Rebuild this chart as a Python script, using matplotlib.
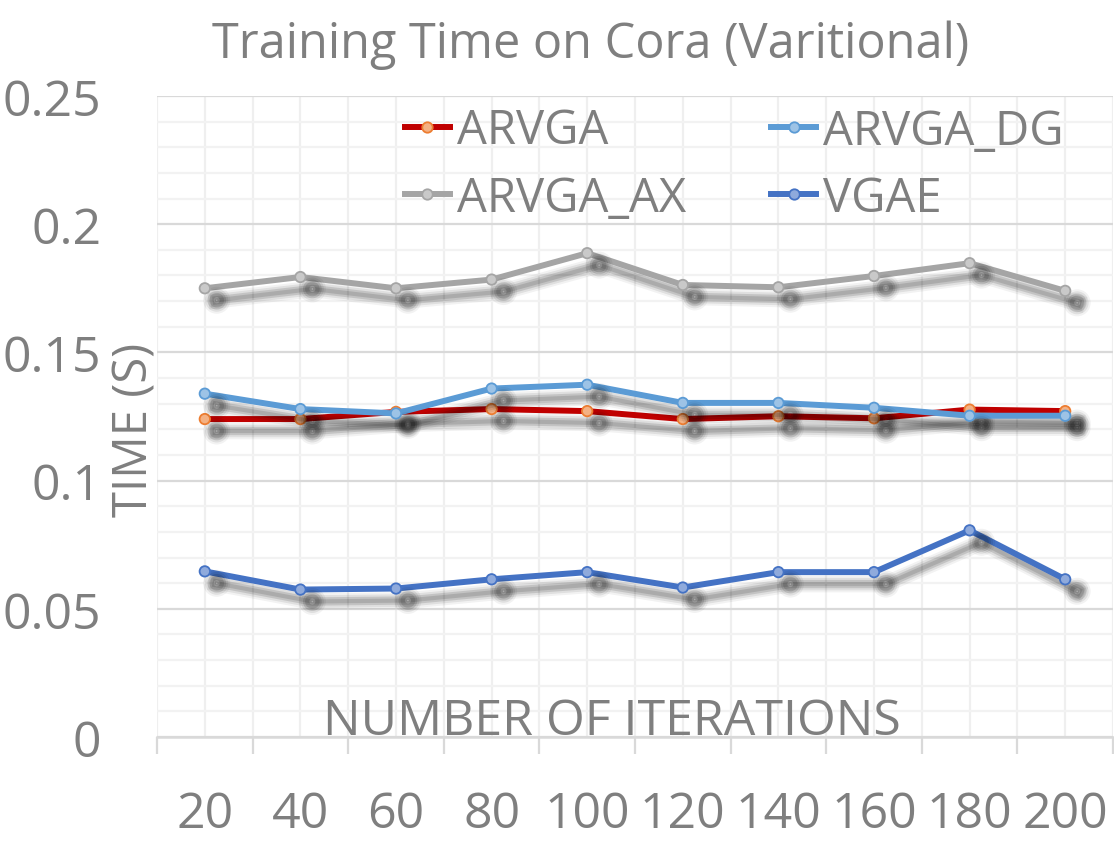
import matplotlib
matplotlib.use("Agg")
import matplotlib.pyplot as plt
import matplotlib.patheffects as pe
import numpy as np

iterations = ["20", "40", "60", "80", "100", "120", "140", "160", "180", "200"]
arvga = [0.1240, 0.1240, 0.1268, 0.1279, 0.1271, 0.1240, 0.1251, 0.1243, 0.1277, 0.1271]
arvga_dg = [0.1339, 0.1279, 0.1262, 0.1359, 0.1374, 0.1303, 0.1303, 0.1284, 0.1253, 0.1253]
arvga_ax = [0.1750, 0.1794, 0.1750, 0.1784, 0.1887, 0.1763, 0.1754, 0.1798, 0.1848, 0.1740]
vgae = [0.0646, 0.0575, 0.0579, 0.0615, 0.0643, 0.0583, 0.0643, 0.0643, 0.0806, 0.0615]

FONT = ["Open Sans", "DejaVu Sans"]
TXT = "#7f7f7f"
plt.rcParams["font.family"] = FONT

fig = plt.figure(figsize=(11.14, 8.53), dpi=100)
ax = fig.add_axes([157 / 1114, (853 - 738) / 853, (1113 - 157) / 1114, (738 - 97) / 853])

x = np.arange(len(iterations))
shadow = [
    pe.SimpleLineShadow(offset=(8.6, -8.6), shadow_color="k", alpha=0.05, linewidth=12),
    pe.SimpleLineShadow(offset=(8.6, -8.6), shadow_color="k", alpha=0.08, linewidth=9),
    pe.SimpleLineShadow(offset=(8.6, -8.6), shadow_color="k", alpha=0.12, linewidth=6),
    pe.SimpleLineShadow(offset=(8.6, -8.6), shadow_color="k", alpha=0.12, linewidth=3),
    pe.Normal(),
]
series = [
    ("ARVGA", arvga, "#C00000", "#F4B183", "#ED7D31"),
    ("ARVGA_DG", arvga_dg, "#5B9BD5", "#9DC3E6", "#5B9BD5"),
    ("ARVGA_AX", arvga_ax, "#A5A5A5", "#C9C9C9", "#A5A5A5"),
    ("VGAE", vgae, "#4472C4", "#8FAADC", "#4472C4"),
]
order = [2, 0, 1, 3]
handles = {}
for i in order:
    name, vals, lc, mfc, mec = series[i]
    (ln,) = ax.plot(x, vals, color=lc, lw=4.3, marker="o", ms=7.5, mfc=mfc, mec=mec,
                    mew=1.3, label=name, path_effects=shadow, zorder=3 + i,
                    solid_joinstyle="round")
    handles[name] = ln

ax.set_xlim(-0.5, len(iterations) - 0.5)
ax.set_ylim(0, 0.25)

ax.set_yticks(np.arange(0, 0.2501, 0.05))
ax.set_yticklabels(["0", "0.05", "0.1", "0.15", "0.2", "0.25"])
ax.set_yticks(np.arange(0, 0.2501, 0.01), minor=True)

ax.set_xticks(np.arange(-0.5, len(iterations)))
ax.set_xticklabels([])
ax.set_xticks(x, minor=True)
ax.set_xticklabels(iterations, minor=True)

ax.grid(False)
ax.yaxis.grid(True, which="major", color="#D9D9D9", lw=1.6)
ax.yaxis.grid(True, which="minor", color="#F2F2F2", lw=1.6)
ax.xaxis.grid(True, which="both", color="#EFEFEF", lw=1.6)
ax.set_axisbelow(True)

for s in ["top", "right", "left"]:
    ax.spines[s].set_visible(False)
ax.spines["bottom"].set_color("#D9D9D9")
ax.spines["bottom"].set_linewidth(1.8)

ax.tick_params(axis="x", which="major", length=12, width=1.6, color="#D9D9D9")
ax.tick_params(axis="x", which="minor", length=0, pad=38, labelsize=36, labelcolor=TXT)
ax.tick_params(axis="y", which="both", length=0)
ax.tick_params(axis="y", which="major", pad=40, labelsize=36, labelcolor=TXT)

ax.text((612 - 157) / 956, 0.004, "NUMBER OF ITERATIONS", transform=ax.transAxes,
        fontsize=36, color=TXT, ha="center", va="baseline", zorder=2)
ax.set_ylabel("TIME (S)", fontsize=34, color=TXT, va="center")
ax.yaxis.set_label_coords((135 - 157) / 956, (738 - 430) / 641)

fig.text(591 / 1114, 1 - 45 / 853, "Training Time on Cora (Varitional)", fontsize=35,
         color=TXT, ha="center", va="center")

leg = ax.legend([handles[n] for n in ["ARVGA", "ARVGA_AX", "ARVGA_DG", "VGAE"]],
                ["ARVGA", "ARVGA_AX", "ARVGA_DG", "VGAE"], ncol=2, frameon=False,
                fontsize=34, labelcolor=TXT, loc="upper left",
                bbox_to_anchor=((405 - 157) / 956, (738 - 108) / 641),
                handlelength=0.95, handletextpad=0.15, columnspacing=1.8,
                labelspacing=0.42, borderpad=0, borderaxespad=0)
for h in leg.legend_handles:
    h.set_path_effects([])

fig.savefig("out.png", dpi=100)
